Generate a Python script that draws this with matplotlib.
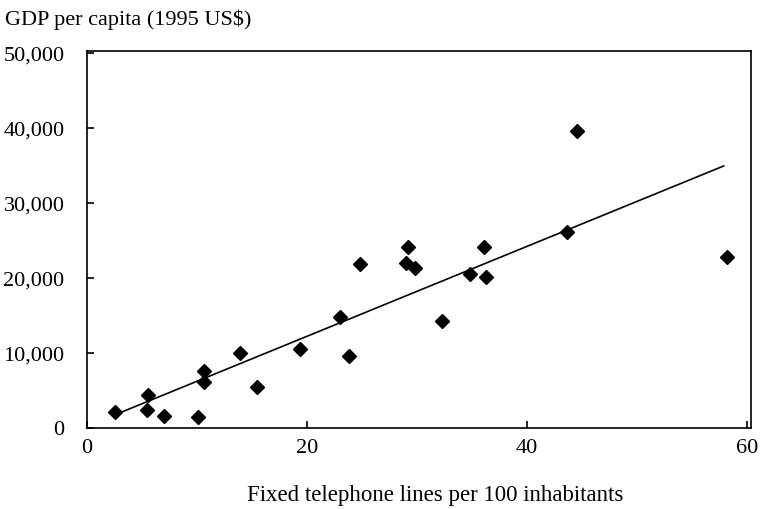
import matplotlib.pyplot as plt
import numpy as np
from matplotlib.ticker import FuncFormatter

# fixed telephone lines per 100 inhabitants
phone_lines = [2.6, 5.6, 5.5, 7.0, 10.1, 10.7, 10.7, 13.9, 15.5, 19.4, 23.8,
               23.0, 24.8, 29.2, 29.0, 29.8, 32.3, 34.8, 36.1, 36.3,
               44.6, 43.7, 58.2]
# GDP per capita, 1995 US$
gdp = [2090, 4400, 2400, 1600, 1430, 7640, 6180, 9960, 5510, 10530, 9600,
       14840, 21820, 24090, 22040, 21290, 14270, 20530, 24090, 20180,
       39640, 26180, 22760]

x_ticks = [0, 20, 40, 60]
y_ticks = [0, 10000, 20000, 30000, 40000, 50000]

plt.rcParams['font.family'] = ['Liberation Serif', 'DejaVu Serif']

fig = plt.figure(figsize=(7.76, 5.09), dpi=100)
ax = fig.add_axes([0.1117, 0.159, 0.8563, 0.741])

ax.plot(phone_lines, gdp, 'D', color='black', markersize=7.5, linestyle='none')

# least-squares trend line
slope, intercept = np.polyfit(phone_lines, gdp, 1)
xs = np.array([min(phone_lines) + 0.4, max(phone_lines) - 0.3])
ax.plot(xs, slope * xs + intercept, color='black', linewidth=1.2)

ax.set_xlim(0, 60.4)
ax.set_ylim(0, 50300)
ax.set_xticks(x_ticks)
ax.set_yticks(y_ticks)
ax.yaxis.set_major_formatter(FuncFormatter(lambda v, p: f'{int(v):,}'))
ax.tick_params(direction='in', length=5, width=1.2, top=False, right=False,
               labelsize=16, colors='black')
ax.tick_params(axis='x', pad=8)
ax.tick_params(axis='y', pad=16)
for s in ax.spines.values():
    s.set_linewidth(1.2)

ax.set_xlabel('Fixed telephone lines per 100 inhabitants', fontsize=16.5,
              labelpad=19, x=0.525)
fig.text(0.006, 0.962, 'GDP per capita (1995 US$)', fontsize=16, ha='left', va='center')

fig.savefig('out.png', dpi=100)
